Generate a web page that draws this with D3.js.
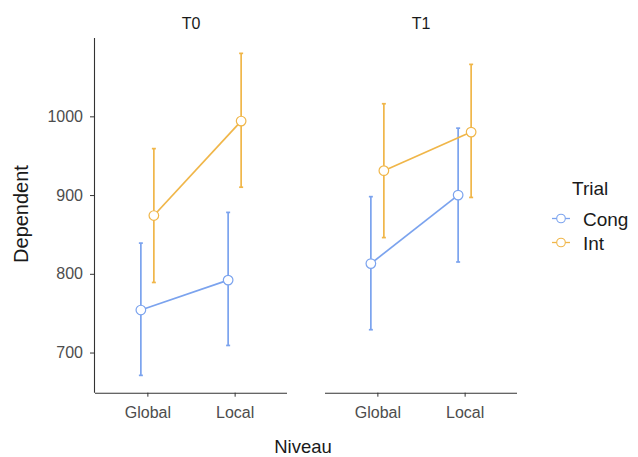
<!DOCTYPE html>
<html><head><meta charset="utf-8">
<script src="https://cdn.jsdelivr.net/npm/d3@7"></script>
<style>body{margin:0;background:#fff;} svg{display:block;font-family:"Liberation Sans",Arial,sans-serif;}</style>
</head><body><svg id="c" width="638" height="457"></svg>
<script>
const facets = ["T0", "T1"];
const niveaux = ["Global", "Local"];
const trials = ["Cong", "Int"];
const yTicks = [700, 800, 900, 1000];
// values per [facet][niveau]
const congMean = [[754, 792], [813, 900]];
const congLow  = [[671, 709], [729, 815]];
const congHigh = [[839, 878], [898, 985]];
const intMean  = [[874, 994], [931, 980]];
const intLow   = [[789, 910], [846, 897]];
const intHigh  = [[959, 1080], [1016, 1066]];
const colors = {Cong: "#7ba3ee", Int: "#f0b649"};

const svg = d3.select("#c");
const panelW = 192, yTop = 38, yBottom = 392.7;
const panelX = [95, 325];
const y = d3.scaleLinear().domain([649, 1099.5]).range([yBottom, yTop]);
const x = d3.scalePoint().domain(niveaux).range([0, panelW]).padding(0.6);
const dodge = 6.5;
const txt = "#4d4d4d";
const ff = "Liberation Sans, Arial, sans-serif";

const data = {
  Cong: {m: congMean, lo: congLow, hi: congHigh},
  Int: {m: intMean, lo: intLow, hi: intHigh}
};

facets.forEach((f, fi) => {
  const g = svg.append("g").attr("transform", `translate(${panelX[fi]},0)`);
  g.append("text").attr("x", panelW / 2).attr("y", 28.5).attr("text-anchor", "middle")
    .attr("font-size", 16).attr("fill", "#1a1a1a").text(f);
  const xa = g.append("g").attr("transform", `translate(0,${yBottom})`).call(d3.axisBottom(x).tickSize(4).tickPadding(10));
  xa.attr("font-size", 16).attr("font-family", ff);
  xa.select(".domain").attr("d", `M0,0.5H${panelW}`).attr("stroke", "#333").attr("stroke-width", 1.1);
  xa.selectAll(".tick line").attr("stroke", "#333");
  xa.selectAll(".tick text").attr("fill", txt);
  if (fi === 0) {
    const ya = g.append("g").call(d3.axisLeft(y).tickValues(yTicks).tickFormat(d3.format("d")).tickSize(5).tickPadding(7));
    ya.attr("font-size", 16).attr("font-family", ff);
    ya.select(".domain").attr("d", `M-0.5,${yTop}V${yBottom}`).attr("stroke", "#333").attr("stroke-width", 1.1);
    ya.selectAll(".tick line").attr("stroke", "#333");
    ya.selectAll(".tick text").attr("fill", txt);
  }
  trials.forEach((t, ti) => {
    const d = data[t];
    const off = ti === 0 ? -dodge : dodge;
    const pts = niveaux.map((n, ni) => ({x: x(n) + off, m: d.m[fi][ni], lo: d.lo[fi][ni], hi: d.hi[fi][ni]}));
    const col = colors[t];
    pts.forEach(p => {
      g.append("line").attr("x1", p.x).attr("x2", p.x).attr("y1", y(p.lo)).attr("y2", y(p.hi))
        .attr("stroke", col).attr("stroke-width", 1.7);
      [p.lo, p.hi].forEach(v => g.append("line").attr("x1", p.x - 2).attr("x2", p.x + 2)
        .attr("y1", y(v)).attr("y2", y(v)).attr("stroke", col).attr("stroke-width", 1.7));
    });
    g.append("path").attr("d", d3.line().x(p => p.x).y(p => y(p.m))(pts))
      .attr("fill", "none").attr("stroke", col).attr("stroke-width", 1.7);
    pts.forEach(p => g.append("circle").attr("cx", p.x).attr("cy", y(p.m)).attr("r", 4.8)
      .attr("fill", "#fff").attr("stroke", col).attr("stroke-width", 1.2));
  });
});

svg.append("text").attr("transform", "translate(28,214) rotate(-90)").attr("text-anchor", "middle")
  .attr("font-size", 20).attr("fill", "#1a1a1a").text("Dependent");
svg.append("text").attr("x", 303).attr("y", 453).attr("text-anchor", "middle")
  .attr("font-size", 18.5).attr("fill", "#1a1a1a").text("Niveau");

const lg = svg.append("g");
lg.append("text").attr("x", 572).attr("y", 195).attr("font-size", 19).attr("fill", "#1a1a1a").text("Trial");
trials.forEach((t, i) => {
  const cy = 218.5 + i * 24;
  lg.append("line").attr("x1", 552).attr("x2", 570).attr("y1", cy).attr("y2", cy).attr("stroke", colors[t]).attr("stroke-width", 1.3);
  lg.append("circle").attr("cx", 561).attr("cy", cy).attr("r", 4.3).attr("fill", "#fff").attr("stroke", colors[t]).attr("stroke-width", 1.1);
  lg.append("text").attr("x", 583).attr("y", cy + 7.5).attr("font-size", 19).attr("fill", "#1a1a1a").text(t);
});
</script></body></html>
